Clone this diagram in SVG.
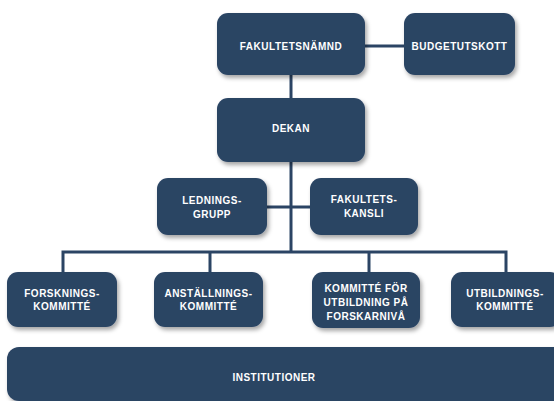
<svg xmlns="http://www.w3.org/2000/svg" width="554" height="401" viewBox="0 0 554 401">
<style>
.box{fill:#2b4464;filter:url(#sh);}
.t{fill:#ffffff;font-family:"Liberation Sans",Arial,sans-serif;font-weight:bold;font-size:10px;letter-spacing:0.5px;text-anchor:middle;}
.c{stroke:#2b4464;stroke-width:3;fill:none;}
</style>
<defs>
<filter id="sh" x="-10%" y="-10%" width="130%" height="140%">
<feDropShadow dx="2" dy="3" stdDeviation="2" flood-color="#000" flood-opacity="0.35"/>
</filter>
</defs>
<rect width="554" height="401" fill="#ffffff"/>
<g id="connectors">
<line class="c" x1="291" y1="70" x2="291" y2="253"/>
<line class="c" x1="360" y1="46" x2="410" y2="46"/>
<line class="c" x1="262" y1="207" x2="315" y2="207"/>
<polyline class="c" points="63,277 63,252 506,252 506,277"/>
<line class="c" x1="210" y1="252" x2="210" y2="277"/>
<line class="c" x1="369" y1="252" x2="369" y2="277"/>
</g>
<g id="fakultetsnamnd"><rect class="box" x="217" y="13" width="148" height="62" rx="11"/><text class="t" x="291" y="50">FAKULTETSNÄMND</text></g>
<g id="budgetutskott"><rect class="box" x="404" y="13" width="111" height="62" rx="11"/><text class="t" x="459.5" y="50">BUDGETUTSKOTT</text></g>
<g id="dekan"><rect class="box" x="217" y="98" width="148" height="64" rx="11"/><text class="t" x="291" y="132">DEKAN</text></g>
<g id="ledningsgrupp"><rect class="box" x="157" y="178" width="110" height="57" rx="11"/><text class="t" x="212" y="204">LEDNINGS-</text><text class="t" x="212" y="218">GRUPP</text></g>
<g id="fakultetskansli"><rect class="box" x="310" y="178" width="108" height="57" rx="11"/><text class="t" x="364" y="203">FAKULTETS-</text><text class="t" x="364" y="217">KANSLI</text></g>
<g id="forskningskommitte"><rect class="box" x="7" y="272" width="110" height="55" rx="11"/><text class="t" x="62" y="297">FORSKNINGS-</text><text class="t" x="62" y="310">KOMMITTÉ</text></g>
<g id="anstallningskommitte"><rect class="box" x="154" y="272" width="109" height="55" rx="11"/><text class="t" x="208.5" y="297">ANSTÄLLNINGS-</text><text class="t" x="208.5" y="310">KOMMITTÉ</text></g>
<g id="forskarniva"><rect class="box" x="312" y="272" width="108" height="56" rx="11"/><text class="t" x="366" y="292">KOMMITTÉ FÖR</text><text class="t" x="366" y="306">UTBILDNING PÅ</text><text class="t" x="366" y="320">FORSKARNIVÅ</text></g>
<g id="utbildningskommitte"><rect class="box" x="451" y="272" width="110" height="55" rx="11"/><text class="t" x="505" y="297">UTBILDNINGS-</text><text class="t" x="505" y="310">KOMMITTÉ</text></g>
<g id="institutioner"><rect class="box" x="7" y="347" width="560" height="54" rx="12"/><text class="t" x="274" y="381">INSTITUTIONER</text></g>
</svg>
